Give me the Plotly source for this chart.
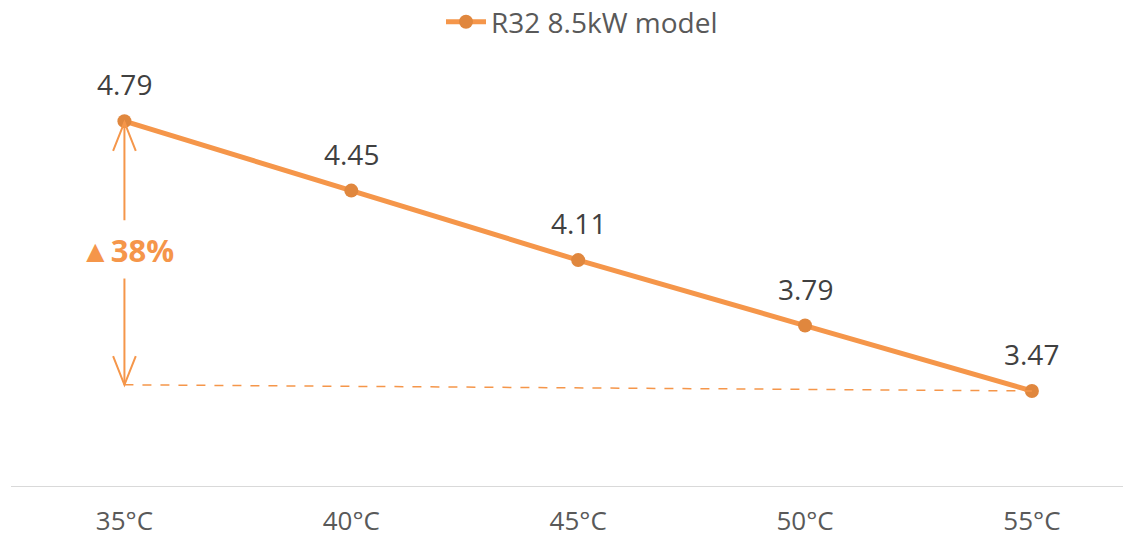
import plotly.graph_objects as go

categories = ["35°C", "40°C", "45°C", "50°C", "55°C"]
values = [4.79, 4.45, 4.11, 3.79, 3.47]
series_name = "R32 8.5kW model"
increase_label = "▲38%"
baseline_start = 3.50

LINE = "#F5964A"
MARK = "#E0873E"
TXT = "#404040"
FONT = "Open Sans"

fig = go.Figure()
fig.add_trace(go.Scatter(
    x=list(range(len(categories))), y=values, mode="lines+markers", name=series_name,
    line=dict(color=LINE, width=5),
    marker=dict(color=MARK, size=14),
))

# dashed baseline from first category to last point
fig.add_shape(type="line", xref="x", yref="y", x0=0, y0=baseline_start, x1=len(values) - 1, y1=values[-1],
              line=dict(color=LINE, width=1.5, dash="dash"))

# vertical arrows
top = values[0] - 0.005
bot = baseline_start
fig.add_shape(type="line", xref="x", yref="y", x0=0, x1=0, y0=top, y1=4.305, line=dict(color=LINE, width=2))
fig.add_shape(type="line", xref="x", yref="y", x0=0, x1=0, y0=4.02, y1=bot, line=dict(color=LINE, width=2))
hw, hh = 0.05, 0.14
fig.add_shape(type="path", xref="x", yref="y",
              path=f"M {-hw},{top - hh} L 0,{top} L {hw},{top - hh}", line=dict(color=LINE, width=2))
fig.add_shape(type="path", xref="x", yref="y",
              path=f"M {-hw},{bot + hh} L 0,{bot} L {hw},{bot + hh}", line=dict(color=LINE, width=2))

fig.add_annotation(x=0.01, y=4.16, xref="x", yref="y", text=f"<b>{increase_label}</b>", showarrow=False,
                   font=dict(family=FONT, size=31, color=LINE), xanchor="center", yanchor="middle")

for i, v in enumerate(values):
    fig.add_annotation(x=i, y=v, text=f"{v:.2f}", showarrow=False, yshift=37,
                       font=dict(family=FONT, size=28, color=TXT), yanchor="middle")

fig.update_layout(
    width=1134, height=540,
    margin=dict(l=11, r=0, t=50, b=53),
    paper_bgcolor="white", plot_bgcolor="white",
    font=dict(family=FONT, color="#595959"),
    showlegend=True,
    legend=dict(orientation="h", x=582 / 1134, xref="container", xanchor="center",
                y=1 - 22 / 540, yanchor="middle", yref="container", itemwidth=40,
                font=dict(size=28, color="#595959")),
    xaxis=dict(range=[-0.5, 4.45], tickmode="array", tickvals=list(range(len(categories))),
               ticktext=categories, showgrid=False, zeroline=False, showline=False, automargin=False,
               tickfont=dict(size=26, color="#595959"), ticks="", ticklabelstandoff=16),
    yaxis=dict(range=[3.0, 5.138], visible=False, showgrid=False, zeroline=False, automargin=False),
)
fig.add_shape(type="line", xref="paper", yref="y", x0=0, x1=(1123 - 11) / 1123, y0=3.0, y1=3.0,
              line=dict(color="#D9D9D9", width=2))
fig.write_html("out.html", config={"displayModeBar": False},
               post_script="document.body.style.margin='0';document.body.style.overflow='hidden';")
